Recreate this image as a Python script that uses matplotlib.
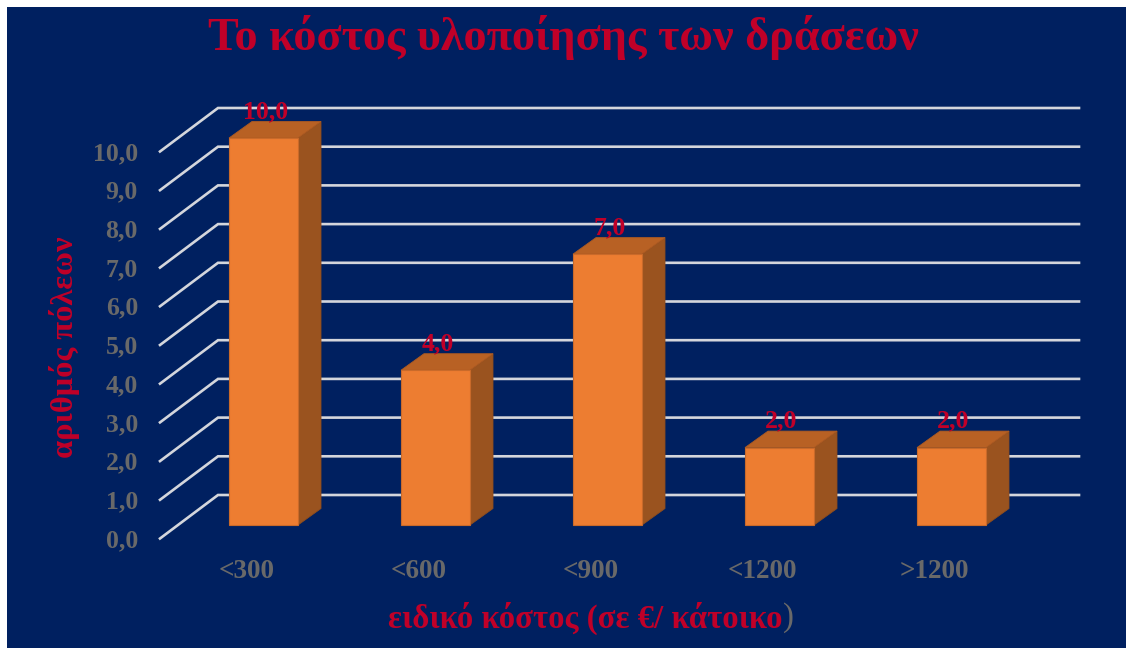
import matplotlib
matplotlib.use('Agg')
import matplotlib.pyplot as plt
from matplotlib.patches import Polygon

categories = ['<300', '<600', '<900', '<1200', '>1200']
cities = [10.0, 4.0, 7.0, 2.0, 2.0]
ticks = [0, 1, 2, 3, 4, 5, 6, 7, 8, 9, 10]

W, H = 1126, 648
navy = '#002060'
red = '#C00028'
grey = '#696969'
plt.rcParams['font.family'] = ['Liberation Serif', 'DejaVu Serif']
plt.rcParams['font.weight'] = 'bold'

# scale of the value axis: pixels per category step and per unit
sx, sy = 172.0, 38.7
x0, y0 = 263.5, 525.0


def comma(v):
    return ('%.1f' % v).replace('.', ',')


fig = plt.figure(figsize=(W / 100, H / 100), dpi=100, facecolor='white')
ax = fig.add_axes([7 / W, 0, (W - 7) / W, (H - 7) / H])
ax.set_facecolor(navy)
ax.set_xlim((7 - x0) / sx, (W - x0) / sx)
ax.set_ylim((y0 - H) / sy, (y0 - 7) / sy)
for s in ax.spines.values():
    s.set_visible(False)
ax.set_xticks([])
ax.set_yticks([])

# offsets of the floor/wall planes from the bar front plane, in data units
bar_w = 69 / sx
dep_x, dep_y = 23 / sx, 16.5 / sy
back_y = 30 / sy
front_y = -13.5 / sy
left_front = (160 - x0) / sx
left_back = (218 - x0) / sx
right_end = (1079 - x0) / sx

for t in ticks:
    ax.plot([left_front, left_back, right_end],
            [t + front_y, t + back_y, t + back_y],
            color='#D4D6DC', lw=1.9, solid_joinstyle='miter', zorder=1)
    ax.text((138 - x0) / sx, t + front_y - 2 / sy, comma(t),
            color=grey, fontsize=18.5, ha='right', va='center')

for i, v in enumerate(cities):
    l = i - bar_w / 2
    r = i + bar_w / 2
    front = [(l, 0), (r, 0), (r, v), (l, v)]
    side = [(r, 0), (r + dep_x, dep_y), (r + dep_x, v + dep_y), (r, v)]
    top = [(l, v), (r, v), (r + dep_x, v + dep_y), (l + dep_x, v + dep_y)]
    ax.add_patch(Polygon(side, fc='#9A531F', ec='#8F4D1D', lw=0.6, zorder=2))
    ax.add_patch(Polygon(top, fc='#B86124', ec='#AD5A21', lw=0.6, zorder=2))
    ax.add_patch(Polygon(front, fc='#ED7D31', ec='#C96A2A', lw=0.8, zorder=3))
    ax.text(i + 2 / sx, v + dep_y + 10 / sy, comma(v),
            color=red, fontsize=18.5, ha='center', va='center', zorder=4)
    ax.text(i - 17 / sx, (y0 - 572) / sy, categories[i],
            color=grey, fontsize=19.5, ha='center', va='center')

fig.text(563.5 / W, 1 - 37 / H, 'Το κόστος υλοποίησης των δράσεων',
         color=red, fontsize=33.2, ha='center', va='center')
fig.text(65 / W, 1 - 347 / H, 'αριθμός πόλεων', color=red, fontsize=23.4,
         rotation=90, ha='center', va='center')

# x axis title: the closing bracket is grey
xl = fig.text(388 / W, 1 - 618 / H, 'ειδικό κόστος (σε €/ κάτοικο',
              color=red, fontsize=23.6, ha='left', va='center')
fig.canvas.draw()
bb = xl.get_window_extent()
fig.text(bb.x1 / W, 1 - 618 / H, ')', color=grey, fontsize=23.6,
         fontweight='normal', ha='left', va='center')

fig.savefig('out.png', dpi=100, facecolor='white')
